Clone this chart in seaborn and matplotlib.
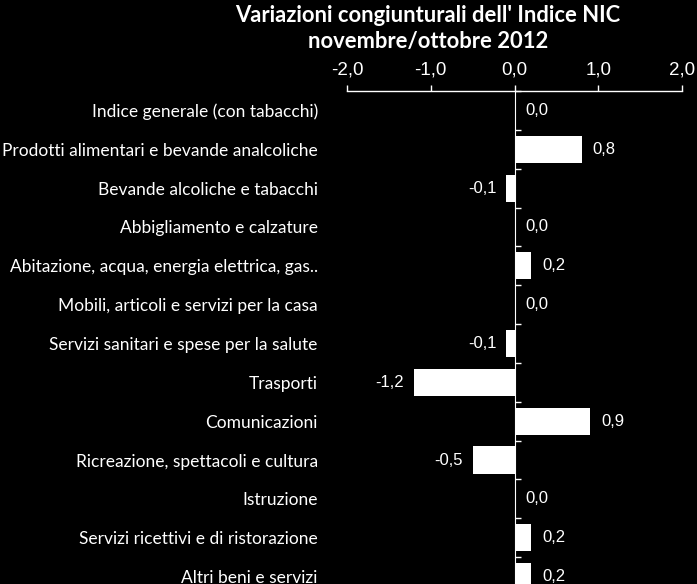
import matplotlib
matplotlib.use("Agg")
import matplotlib.pyplot as plt
import seaborn as sns
import pandas as pd
import numpy as np

categories = [
    "Indice generale (con tabacchi)",
    "Prodotti alimentari e bevande analcoliche",
    "Bevande alcoliche e tabacchi",
    "Abbigliamento e calzature",
    "Abitazione, acqua, energia elettrica, gas..",
    "Mobili, articoli e servizi per la casa",
    "Servizi sanitari e spese per la salute",
    "Trasporti",
    "Comunicazioni",
    "Ricreazione, spettacoli e cultura",
    "Istruzione",
    "Servizi ricettivi e di ristorazione",
    "Altri beni e servizi",
]
values = [0.0, 0.8, -0.1, 0.0, 0.2, 0.0, -0.1, -1.2, 0.9, -0.5, 0.0, 0.2, 0.2]
xticks = [-2.0, -1.0, 0.0, 1.0, 2.0]
title = "Variazioni congiunturali dell' Indice NIC\nnovembre/ottobre 2012"

df = pd.DataFrame({"cat": categories, "val": values})

sns.set_style("dark")
plt.rcParams["font.family"] = ["Liberation Sans", "DejaVu Sans"]

fig = plt.figure(figsize=(6.97, 5.84), dpi=100, facecolor="black")
W, H = 697, 584
left, right, top, bottom = 347, 682, 91, 596
ax = fig.add_axes([left / W, 1 - bottom / H, (right - left) / W, (bottom - top) / H])
ax.set_facecolor("black")

sns.barplot(data=df, x="val", y="cat", orient="h", color="white",
            saturation=1, width=0.7, ax=ax, edgecolor="none")

ax.set_xlim(-2, 2)
ax.set_ylim(len(categories) - 0.5, -0.5)
ax.grid(False)
for s in ["left", "right", "bottom"]:
    ax.spines[s].set_visible(False)
ax.spines["top"].set_visible(True)
ax.spines["top"].set_color("white")
ax.spines["top"].set_linewidth(1.0)

ax.xaxis.tick_top()
ax.set_xticks(xticks)
ax.set_xticklabels([f"{v:.1f}".replace(".", ",") for v in xticks])
ax.tick_params(axis="x", colors="white", labelsize=13.5, length=4, width=1,
               direction="out", pad=5, top=True, bottom=False)
ax.set_xlabel("")
ax.set_ylabel("")

ax.set_yticks(range(len(categories)))
ax.set_yticklabels(categories, fontfamily=["Lato", "DejaVu Sans"])
ax.tick_params(axis="y", colors="white", labelsize=12.5, length=0, pad=21, left=True)

# zero axis with boundary ticks
sec = ax.secondary_yaxis(0.5)
sec.spines["left"].set_color("white")
sec.spines["left"].set_linewidth(1.0)
sec.set_yticks(np.arange(len(categories) + 1) - 0.5)
sec.set_yticklabels([])
sec.tick_params(axis="y", colors="white", length=4, width=1, direction="out")

for i, v in enumerate(values):
    lab = f"{v:.1f}".replace(".", ",")
    if v < 0:
        ax.annotate(lab, (v, i), xytext=(-7, 0), textcoords="offset points",
                    ha="right", va="center", color="white", fontsize=12)
    else:
        ax.annotate(lab, (v, i), xytext=(8, 0), textcoords="offset points",
                    ha="left", va="center", color="white", fontsize=12)

fig.text(428 / W, 1 - 5 / H, title, ha="center", va="top", color="white",
         fontsize=15.8, fontweight="bold", linespacing=1.3,
         fontfamily=["Lato", "DejaVu Sans"])

fig.savefig("out.png", dpi=100, facecolor="black")
